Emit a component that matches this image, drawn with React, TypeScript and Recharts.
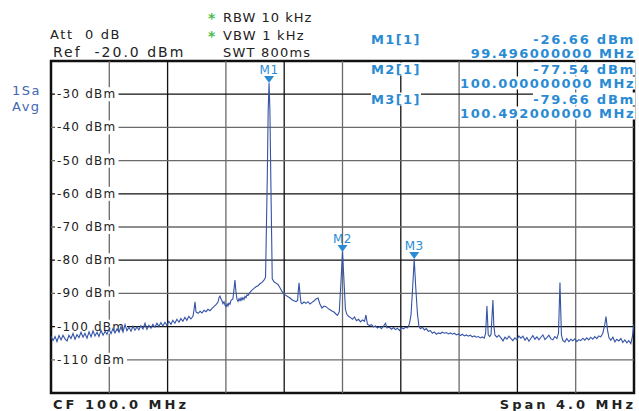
import React from "react";
import {
  LineChart, Line, XAxis, YAxis, ReferenceLine, ReferenceDot, ReferenceArea,
} from "recharts";

// Spectrum trace, [MHz, dBm], split by region of the sweep
const traceLow: [number, number][] = [
  [98.000, -103.0], [98.014, -104.2], [98.028, -103.0], [98.041, -104.5], [98.055, -102.7],
  [98.069, -104.0], [98.082, -102.6], [98.096, -103.7], [98.110, -104.3], [98.123, -102.6],
  [98.137, -103.6], [98.151, -102.1], [98.165, -103.8], [98.178, -102.4], [98.192, -103.3],
  [98.206, -101.7], [98.220, -103.2], [98.233, -102.0], [98.247, -103.5], [98.261, -101.6],
  [98.275, -103.1], [98.288, -101.3], [98.302, -102.8], [98.316, -101.7], [98.329, -103.0],
  [98.343, -101.1], [98.357, -102.6], [98.371, -101.4], [98.384, -102.3], [98.398, -100.8],
  [98.412, -102.1], [98.425, -100.6], [98.439, -101.9], [98.453, -100.7], [98.467, -101.7],
  [98.480, -100.0], [98.494, -101.6], [98.508, -99.4], [98.521, -101.2], [98.535, -100.2],
  [98.549, -101.4], [98.562, -99.9], [98.576, -101.1], [98.590, -100.1], [98.603, -101.0],
  [98.617, -99.7], [98.631, -100.7], [98.645, -99.0], [98.658, -100.8], [98.672, -99.6],
  [98.686, -100.5], [98.699, -99.3], [98.713, -100.2], [98.727, -99.0], [98.740, -100.0],
  [98.754, -98.8], [98.768, -99.8], [98.782, -98.7], [98.795, -99.6], [98.809, -98.4],
  [98.823, -99.3], [98.836, -98.1], [98.850, -99.0], [98.864, -97.8], [98.878, -98.7],
  [98.891, -97.6], [98.905, -98.4], [98.919, -97.2], [98.932, -98.1], [98.946, -96.9],
  [98.960, -97.7], [98.974, -96.9], [98.981, -95.0], [98.988, -92.5], [98.995, -95.6],
];

const traceM1: [number, number][] = [
  [99.009, -96.0], [99.023, -95.4], [99.036, -95.9], [99.050, -95.1], [99.064, -95.5],
  [99.077, -94.8], [99.091, -95.2], [99.105, -94.5], [99.118, -94.0], [99.132, -93.4],
  [99.146, -92.6], [99.153, -91.2], [99.160, -90.8], [99.166, -91.6], [99.173, -92.2],
  [99.180, -93.1], [99.187, -92.5], [99.194, -93.6], [99.201, -94.0], [99.208, -93.2],
  [99.214, -93.8], [99.221, -92.9], [99.228, -93.3], [99.235, -92.1], [99.248, -91.7],
  [99.255, -89.0], [99.262, -86.0], [99.269, -89.5], [99.276, -91.8], [99.283, -92.4],
  [99.290, -91.6], [99.297, -92.2], [99.304, -91.4], [99.310, -92.0], [99.317, -91.3],
  [99.324, -91.8], [99.331, -90.9], [99.338, -91.3], [99.345, -90.4], [99.352, -90.6],
  [99.365, -89.7], [99.379, -89.0], [99.393, -88.5], [99.406, -88.0], [99.420, -87.7],
  [99.434, -87.1], [99.448, -86.7], [99.461, -86.0], [99.472, -85.2], [99.484, -55.0],
  [99.490, -35.0], [99.496, -26.66], [99.502, -35.0], [99.508, -55.0], [99.518, -85.6],
  [99.530, -86.5], [99.544, -86.9], [99.557, -87.3], [99.571, -88.3], [99.585, -89.4],
  [99.598, -90.2], [99.612, -90.6], [99.626, -91.0], [99.640, -91.4], [99.653, -91.9],
  [99.667, -92.2], [99.681, -92.5], [99.692, -92.1], [99.697, -89.0], [99.702, -86.8],
  [99.708, -90.0], [99.715, -92.8], [99.722, -93.1], [99.736, -92.6], [99.750, -93.0],
  [99.763, -92.5], [99.777, -93.2], [99.791, -92.7], [99.804, -92.3], [99.818, -91.7],
  [99.832, -91.4], [99.845, -93.2], [99.859, -94.4], [99.873, -93.8], [99.887, -94.0],
  [99.900, -94.5], [99.914, -94.9], [99.928, -95.3], [99.941, -95.6], [99.955, -96.2],
  [99.966, -96.6],
];

const traceM2M3: [number, number][] = [
  [99.978, -95.5], [99.990, -86.0], [100.000, -77.54], [100.010, -86.0], [100.020, -94.8],
  [100.030, -96.3], [100.041, -96.9], [100.055, -97.3], [100.069, -97.8], [100.082, -97.1],
  [100.096, -98.2], [100.110, -97.8], [100.124, -98.6], [100.137, -98.0], [100.151, -98.4],
  [100.161, -96.5], [100.171, -99.3], [100.185, -99.7], [100.199, -99.4], [100.213, -100.1],
  [100.226, -99.8], [100.240, -100.4], [100.254, -100.0], [100.267, -100.6], [100.281, -99.9],
  [100.295, -99.0], [100.305, -100.4], [100.322, -100.2], [100.336, -100.8], [100.350, -100.3],
  [100.363, -100.9], [100.377, -100.5], [100.391, -101.2], [100.404, -100.3], [100.418, -100.7],
  [100.432, -100.2], [100.446, -100.4], [100.459, -99.2], [100.470, -96.5], [100.481, -88.5],
  [100.492, -79.66], [100.503, -88.5], [100.514, -96.0], [100.524, -99.8], [100.534, -100.6],
  [100.548, -100.2], [100.562, -101.0], [100.575, -100.6], [100.589, -101.4], [100.603, -101.2],
];

const traceHigh: [number, number][] = [
  [100.617, -102.0], [100.630, -101.6], [100.644, -102.3], [100.658, -101.9], [100.671, -102.1],
  [100.685, -101.7], [100.699, -102.0], [100.713, -101.8], [100.726, -102.2], [100.740, -101.9],
  [100.754, -102.3], [100.767, -102.0], [100.781, -102.5], [100.795, -102.2], [100.809, -102.7],
  [100.822, -102.3], [100.836, -102.8], [100.850, -102.5], [100.863, -102.9], [100.877, -102.6],
  [100.891, -103.1], [100.904, -102.8], [100.918, -103.2], [100.932, -103.0], [100.946, -103.4],
  [100.959, -103.1], [100.973, -103.5], [100.982, -102.0], [100.991, -93.8], [101.000, -102.5],
  [101.010, -103.0], [101.019, -102.4], [101.027, -96.0], [101.032, -92.0], [101.038, -99.5],
  [101.046, -102.6], [101.060, -103.2], [101.073, -102.6], [101.087, -103.4], [101.101, -104.3],
  [101.115, -103.2], [101.128, -103.8], [101.142, -102.9], [101.156, -103.6], [101.169, -104.2],
  [101.183, -103.4], [101.197, -104.0], [101.210, -102.8], [101.224, -103.5], [101.238, -102.9],
  [101.252, -104.1], [101.265, -103.3], [101.279, -104.4], [101.293, -103.5], [101.306, -102.7],
  [101.320, -103.8], [101.334, -103.1], [101.348, -104.0], [101.361, -103.2], [101.375, -102.5],
  [101.389, -103.9], [101.402, -103.3], [101.416, -102.6], [101.430, -103.7], [101.443, -104.0],
  [101.457, -103.0], [101.471, -103.6], [101.482, -102.0], [101.492, -86.7], [101.502, -102.5],
  [101.512, -104.2], [101.526, -104.6], [101.539, -103.6], [101.553, -104.5], [101.567, -103.8],
  [101.580, -104.3], [101.594, -103.7], [101.608, -104.5], [101.621, -103.9], [101.635, -104.2],
  [101.649, -103.5], [101.662, -104.1], [101.676, -103.4], [101.690, -104.0], [101.703, -103.2],
  [101.717, -103.8], [101.731, -103.0], [101.745, -103.6], [101.758, -102.8], [101.772, -103.1],
  [101.786, -102.0], [101.799, -99.5], [101.808, -97.0], [101.818, -101.0], [101.828, -103.3],
  [101.841, -104.1], [101.855, -103.2], [101.869, -104.6], [101.882, -103.8], [101.896, -104.3],
  [101.910, -103.6], [101.923, -104.8], [101.937, -104.0], [101.951, -104.9], [101.964, -104.2],
  [101.978, -105.1], [101.989, -103.0], [102.000, -99.2],
];

const markerNames = ["M1", "M2", "M3"];
const markerMHz = [99.496, 100.0, 100.492];
const markerDbm = [-26.66, -77.54, -79.66];
const markerFreqText = ["99.496000000 MHz", "100.000000000 MHz", "100.492000000 MHz"];

const freqGrid = [98.4, 98.8, 99.2, 99.6, 100.0, 100.4, 100.8, 101.2, 101.6];
const levelGrid = [-30, -40, -50, -60, -70, -80, -90, -100, -110];

const data = [...traceLow, ...traceM1, ...traceM2M3, ...traceHigh].map(([f, dbm]) => ({ f, dbm }));

const FONT = "'DejaVu Sans', Verdana, sans-serif";
const MK = "#2a8bd4";
const DARK_LEVELS = [-30, -60, -80, -100];

function LevelLabel(props: any) {
  const { viewBox, value } = props;
  const text = `${value} dBm`;
  const w = text.length * 8.5;
  return (
    <g>
      <rect x={viewBox.x + 4} y={viewBox.y - 7} width={w + 4} height={14} fill="#fff" />
      <text x={viewBox.x + 6} y={viewBox.y} dominantBaseline="central"
        fontFamily={FONT} fontSize={12} letterSpacing={1.2} fill="#222">{text}</text>
    </g>
  );
}

function MarkerShape(props: any) {
  const { cx, cy, name } = props;
  return (
    <g>
      <polygon points={`${cx - 5},${cy - 7} ${cx + 5},${cy - 7} ${cx},${cy}`} fill={MK} />
      <text x={cx} y={cy - 9} textAnchor="middle" fontFamily={FONT} fontSize={12}
        letterSpacing={0.5} fill={MK}>{name}</text>
    </g>
  );
}

function Txt({ x, y, right, bold, color = "#222", size = 13, ls = 1, bg, children }: any) {
  const style: React.CSSProperties = {
    position: "absolute", top: y, transform: "translateY(-50%)", lineHeight: 1,
    whiteSpace: "pre", fontFamily: FONT, fontSize: size, letterSpacing: ls,
    fontWeight: bold ? "bold" : "normal", color, background: bg ? "#fff" : "transparent",
  };
  if (right !== undefined) style.right = 639 - right;
  else style.left = x;
  return <div style={style}>{children}</div>;
}

export default function App() {
  return (
    <div style={{ position: "absolute", left: 0, top: 0, width: 639, height: 411, background: "#fff", overflow: "hidden" }}>
      <LineChart width={639} height={411} data={data} margin={{ top: 61, right: 5, bottom: 18, left: 51 }}>
        <XAxis dataKey="f" type="number" domain={[98, 102]} hide allowDataOverflow />
        <YAxis type="number" domain={[-120, -20]} hide allowDataOverflow />
        {freqGrid.map((f, i) => (
          <ReferenceLine key={`v${f}`} x={f} stroke={i % 2 ? "#111" : "#6a6a6a"} strokeWidth={1.3} />
        ))}
        {levelGrid.map((l) => (
          <ReferenceLine key={`h${l}`} y={l} stroke={DARK_LEVELS.includes(l) ? "#111" : "#6a6a6a"}
            strokeWidth={1.3} label={<LevelLabel value={l} />} />
        ))}
        <ReferenceArea x1={98} x2={102} y1={-120} y2={-20} fill="none" stroke="#111" strokeWidth={2.5} />
        <Line dataKey="dbm" stroke="#3453a6" strokeWidth={1.1} dot={false} isAnimationActive={false} />
        {markerNames.map((n, i) => (
          <ReferenceDot key={n} x={markerMHz[i]} y={markerDbm[i]}
            shape={(p: any) => <MarkerShape {...p} name={n} />} />
        ))}
      </LineChart>

      <Txt x={208} y={18} bold color="#4cbb4c" size={14} ls={0}>*</Txt>
      <Txt x={223} y={17} size={13} ls={1.0}>RBW 10 kHz</Txt>
      <Txt x={208} y={36} bold color="#4cbb4c" size={14} ls={0}>*</Txt>
      <Txt x={223} y={35} size={13} ls={1.2}>VBW 1 kHz</Txt>
      <Txt x={223} y={52} size={13} ls={1.2}>SWT 800ms</Txt>
      <Txt x={50} y={34} size={13} ls={1.6}>{"Att  0 dB"}</Txt>
      <Txt x={53} y={52} size={14} ls={2}>{"Ref  -20.0 dBm"}</Txt>
      <Txt x={12} y={90} color="#4266b0" size={13} ls={1.5}>1Sa</Txt>
      <Txt x={12} y={106} color="#4266b0" size={13} ls={1.5}>Avg</Txt>

      {markerNames.map((n, i) => {
        const y0 = [39, 69, 99][i];
        const y1 = [53, 83, 113][i];
        return (
          <React.Fragment key={n}>
            <Txt x={371} y={y0} bold color={MK} size={13} ls={1.4} bg>{`${n}[1]`}</Txt>
            <Txt right={635} y={y0} bold color={MK} size={13} ls={1.8} bg>{`${markerDbm[i].toFixed(2)} dBm`}</Txt>
            <Txt right={635} y={y1} bold color={MK} size={13} ls={1.5} bg>{markerFreqText[i]}</Txt>
          </React.Fragment>
        );
      })}

      <Txt x={53} y={404} bold size={13} ls={3}>CF 100.0 MHz</Txt>
      <Txt right={636} y={404} bold size={13} ls={3}>Span 4.0 MHz</Txt>
    </div>
  );
}
